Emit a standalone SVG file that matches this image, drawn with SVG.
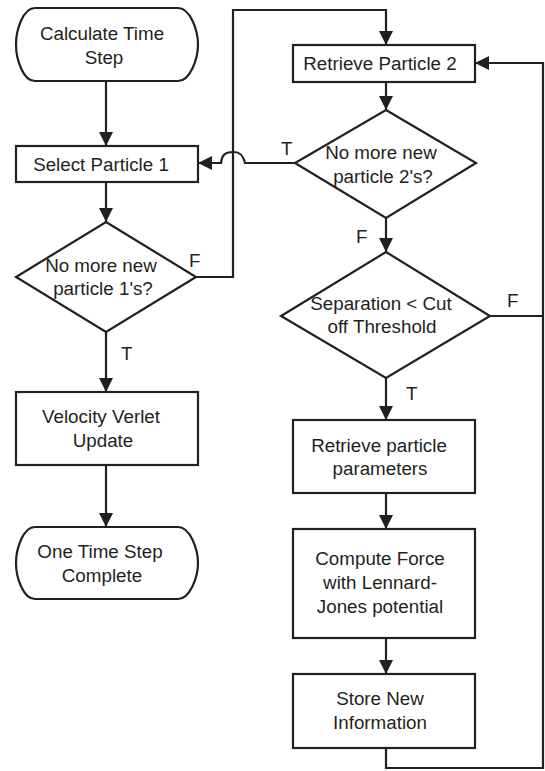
<svg xmlns="http://www.w3.org/2000/svg" width="545" height="771" viewBox="0 0 545 771">
<style>
.s{fill:#fff;stroke:#231f20;stroke-width:2.2}
.c{fill:none;stroke:#231f20;stroke-width:2.2}
text{font-family:"Liberation Sans",Arial,sans-serif;font-size:18.8px;fill:#231f20;text-anchor:middle}
.l{text-anchor:start}
</style>
<defs>
<marker id="a" markerUnits="userSpaceOnUse" markerWidth="14" markerHeight="14" viewBox="0 0 14 14" refX="14" refY="7" orient="auto">
<path d="M0,0 L14,7 L0,14 Z" fill="#231f20"/>
</marker>
</defs>
<rect width="545" height="771" fill="#fff"/>
<g id="connectors">
<path class="c" d="M106,81 V146" marker-end="url(#a)"/>
<path class="c" d="M106,182 V222" marker-end="url(#a)"/>
<path class="c" d="M106,332 V392" marker-end="url(#a)"/>
<path class="c" d="M106,465 V527" marker-end="url(#a)"/>
<path class="c" d="M196,277 H233 V10 H386 V45" marker-end="url(#a)"/>
<path class="c" d="M386,82 V110" marker-end="url(#a)"/>
<path class="c" d="M295,163 H245 C243,155 240,152 234,152 C226,152 222,154 221,163 H198" marker-end="url(#a)"/>
<path class="c" d="M386,218 V252" marker-end="url(#a)"/>
<path class="c" d="M490,316 H543"/>
<path class="c" d="M386,378 V420" marker-end="url(#a)"/>
<path class="c" d="M386,493 V529" marker-end="url(#a)"/>
<path class="c" d="M386,638 V674" marker-end="url(#a)"/>
<path class="c" d="M386,748 V768 H543 V63 H475" marker-end="url(#a)"/>
<text class="l" x="189" y="267">F</text>
<text class="l" x="281" y="155">T</text>
<text class="l" x="121" y="360">T</text>
<text class="l" x="356" y="243">F</text>
<text class="l" x="507" y="307">F</text>
<text class="l" x="406" y="400">T</text>
</g>
<g id="start">
<path class="s" d="M35,8 H178 C190,8 198,30 198,44.5 C198,59 190,81 178,81 H35 C23,81 16,59 16,44.5 C16,30 23,8 35,8 Z"/>
<text x="102" y="40">Calculate Time</text>
<text x="104" y="64">Step</text>
</g>
<g id="select1">
<rect class="s" x="16" y="146" width="182" height="36"/>
<text x="101" y="171">Select Particle 1</text>
</g>
<g id="dec1">
<path class="s" d="M106,222 L196,277 L106,332 L16,277 Z"/>
<text x="101" y="272">No more new</text>
<text x="103" y="295">particle 1's?</text>
</g>
<g id="verlet">
<rect class="s" x="16" y="392" width="182" height="73"/>
<text x="101" y="423">Velocity Verlet</text>
<text x="103" y="447">Update</text>
</g>
<g id="end">
<path class="s" d="M35,527 H178 C190,527 198,549 198,563 C198,577 190,599 178,599 H35 C23,599 16,577 16,563 C16,549 23,527 35,527 Z"/>
<text x="100" y="558">One Time Step</text>
<text x="102" y="582">Complete</text>
</g>
<g id="retrieve2">
<rect class="s" x="293" y="45" width="182" height="37"/>
<text x="380" y="70">Retrieve Particle 2</text>
</g>
<g id="dec2">
<path class="s" d="M386,110 L476,163 L386,218 L295,163 Z"/>
<text x="381" y="159">No more new</text>
<text x="383" y="183">particle 2's?</text>
</g>
<g id="dec3">
<path class="s" d="M386,252 L490,316 L386,378 L281,316 Z"/>
<text x="381" y="310">Separation &lt; Cut</text>
<text x="382" y="333">off Threshold</text>
</g>
<g id="params">
<rect class="s" x="293" y="420" width="182" height="73"/>
<text x="379" y="452">Retrieve particle</text>
<text x="380" y="475">parameters</text>
</g>
<g id="force">
<rect class="s" x="293" y="529" width="182" height="109"/>
<text x="380" y="565">Compute Force</text>
<text x="380" y="589">with Lennard-</text>
<text x="380" y="613">Jones potential</text>
</g>
<g id="store">
<rect class="s" x="293" y="674" width="182" height="74"/>
<text x="380" y="705">Store New</text>
<text x="380" y="729">Information</text>
</g>
</svg>
